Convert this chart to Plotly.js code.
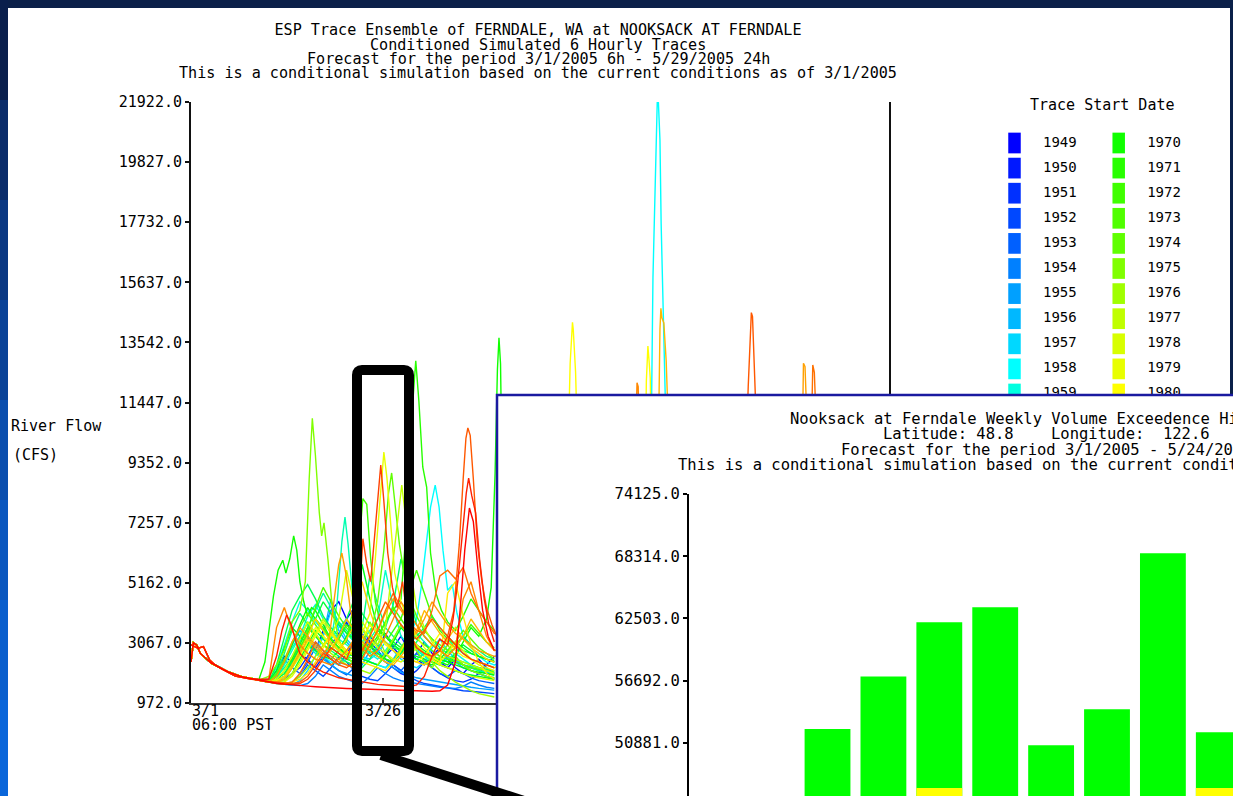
<!DOCTYPE html>
<html><head><meta charset="utf-8">
<script src="https://cdn.plot.ly/plotly-3.0.1.min.js"></script>
<style>html,body{margin:0;padding:0;background:#0b2352;overflow:hidden}#chart{width:1233px;height:796px}</style>
</head><body><div id="chart"></div>
<script>
// ================= DATA =================
// Main chart: ESP trace ensemble, flow in CFS, x = days after 3/1/2005 06:00
const mainTitleLines = [
  "ESP Trace Ensemble of FERNDALE, WA at NOOKSACK AT FERNDALE",
  "Conditioned Simulated 6 Hourly Traces",
  "Forecast for the period 3/1/2005 6h - 5/29/2005 24h",
  "This is a conditional simulation based on the current conditions as of 3/1/2005"
];
const mainYTicks = [972, 3067, 5162, 7257, 9352, 11447, 13542, 15637, 17732, 19827, 21922];
const xTickDays = [0, 24.75];
const xTickLabels = ["3/1", "3/26"];
const xTickSubLabels = ["06:00 PST", ""];

// shared observed start (before traces diverge)
const baseDaysA = [0, 0.3, 0.75, 1.2, 2.6, 3.5, 4.8, 6.5, 8.7];
const baseFlowA = [2400, 3070, 2990, 2700, 2360, 2240, 2060, 1890, 1770];
const baseDaysB = [0, 0.9, 1.6, 2.4, 3.1, 4, 5.7, 7.8];
const baseFlowB = [3000, 2880, 2940, 2470, 2300, 2150, 1910, 1800];

const simDays = [10,11,12,13,14,15,16,17,18,19,20,21,22,23,24,25,26,27,28,29,30,31,32,33,34,35,36,37,38,39];

const flow1949 = [1800,2100,2600,2400,2900,3300,2800,3500,4200,4500,3900,4300,3600,3100,2800,3400,2900,2600,2400,2700,3100,2700,2400,2200,2500,2300,2100,2000,2300,2600];
const flow1950 = [1700,1750,1900,2300,2700,2500,2200,2600,3000,3400,3800,3200,2900,3300,3000,2600,2900,3300,2800,2500,2300,2600,2900,2500,2200,2000,2300,2500,2200,2000];
const flow1951 = [1720,1700,1800,2000,2200,2600,3100,2800,2500,2300,2700,3100,3400,3000,2600,2400,2200,2000,1900,2100,2400,2200,2000,1850,1750,1700,1800,2000,1900,1800];
const flow1952 = [1700,1680,1650,1700,1900,2300,2100,1900,2200,2600,2400,2100,1900,1800,1750,2000,2300,2100,1900,1750,1650,1600,1550,1500,1450,1400,1380,1350,1320,1300];
const flow1953 = [1720,2000,2500,2200,2000,2400,2900,2600,2300,2100,1950,2200,2700,3100,2800,2500,2300,2100,2400,2700,2500,2200,2000,1900,2100,2000,1850,1750,1700,1650];
const flow1954 = [1700,1660,1620,1600,1580,1650,1900,2300,2100,1900,1800,1700,1650,1900,2200,2000,1850,1750,1700,1650,1600,1560,1520,1500,1480,1550,1700,1600,1520,1480];
const flow1955 = [1700,1680,1800,2200,2700,3100,2800,2500,2300,2100,2000,1900,2300,2800,2600,2400,2200,2050,1950,1850,1800,1750,1700,1650,1600,1560,1520,1480,1450,1420];
const flow1956 = [1720,1900,2400,3000,3500,3200,2900,3300,4600,3500,3100,2800,2600,2400,2300,2200,2500,2900,3300,3000,2700,2500,2300,2600,2400,2200,2100,2000,1900,1850];
const flow1957 = [1700,1650,1620,1600,1750,2100,2600,3300,4200,3700,3200,2900,2600,2500,2700,3100,2800,2500,2300,2200,2400,2900,3200,2800,2500,2300,2200,2100,2050,2000];
const days1958 = [10,11,12,13,14,15,16,17,18,19,20,21,22,23,24,25,26,27,28,29,29.6,30.2,30.8,31.4,31.9,32.4,33,33.6,34.2,35,36,37,38,39,45,55,59,59.4,59.7,59.95,60.1,60.3,60.45,60.6,60.8,61.3,63];
const flow1958 = [1700,1750,1900,2200,2600,3000,2800,2600,2400,2300,2500,2800,2600,2400,2300,2200,2400,2700,3200,3900,5000,6400,7800,8570,7800,6300,4900,5100,4100,3300,2900,2600,2400,2300,2800,3500,6000,15800,19000,21922,21900,20600,17700,16000,14200,8000,4000];
const flow1959 = [1720,2200,3000,3800,4500,4200,3800,3500,3200,3600,3900,3400,3000,2700,2500,2800,3200,3700,3300,2900,2600,2400,2300,2500,2700,2500,2300,2200,2100,2000];
const flow1960 = [1700,1800,2300,2800,3300,4000,4400,3900,3500,3200,3000,2800,3100,3500,3900,5600,4300,3300,3000,2800,2600,2500,2800,3200,2900,2700,2500,2400,2300,2200];
const days1961 = [10,11,12,13,14,15,16,17,18,18.8,19.4,19.8,20.2,20.7,21.3,22,23,24,25,26,27,28,29,30,31,32,33,34,35,36,37,38,39];
const flow1961 = [1720,1900,2400,2900,3300,3000,2700,2500,3100,4500,6600,7450,6500,5000,4000,3500,3200,3600,3300,3000,2800,3100,3400,3100,2800,2600,2500,2400,2300,2250,2200,2100,2050];
const flow1962 = [1720,1900,2200,2600,3100,3600,4200,4800,4300,3800,3400,3100,2900,2700,2900,3300,3000,2800,2600,2500,2700,3000,2800,2600,2400,2300,2200,2100,2000,1950];
const flow1963 = [1700,2000,2700,3500,4100,3700,3300,3000,3400,3800,3500,3200,3600,5400,4400,3600,3300,3000,2800,3100,3500,3200,2900,2700,2900,3300,3000,2800,2600,2500];
const flow1964 = [1720,1700,1900,2500,3200,3800,3400,3000,2800,2600,2400,2300,2200,2500,3000,3600,4400,6000,4800,3700,3300,3000,2800,2600,2500,2400,2300,2200,2150,2100];
const flow1965 = [1700,2300,3300,4200,4700,5100,4600,4000,3600,3300,3900,4600,4100,3700,3400,3100,2900,2800,3000,3300,3600,4000,3600,3300,3000,2800,2700,2600,2500,2450];
const flow1966 = [1720,1800,2000,2400,2900,3400,3900,4500,4100,3700,3400,3200,3000,2800,2600,2500,2400,2700,3100,2900,2700,2600,2500,2400,2700,3000,2800,2600,2500,2400];
const flow1967 = [1700,1650,1700,2000,2500,3000,3500,3200,2900,2700,2500,2400,2600,3000,3500,3300,3100,2900,2700,2600,2500,2400,2300,2200,2100,2000,1950,1900,1850,1800];
const flow1968 = [1720,2100,2900,3600,3300,3000,2800,2600,2500,2800,3300,3900,5800,4600,3600,3300,3000,2800,2600,2500,2400,2300,2500,2800,3100,2900,2700,2600,2500,2400];
const flow1969 = [1700,1900,2400,3000,3700,4300,3900,3500,3200,2900,2700,2600,2500,2400,2300,2600,3100,3600,3300,3000,2800,2600,2500,2400,2300,2200,2100,2050,2000,1950];
const days1970 = [9.5,10,10.6,11.2,11.8,12.2,12.7,13.2,13.6,14,14.5,15,15.5,16,17,18,19,20,21,22,23,24,25,26,27,28,29,30,31,32,33,34,35,36,37,38,38.6,39.1,39.4,39.6,39.8,40.1,40.5];
const flow1970 = [2400,3400,4700,5600,5950,5500,6000,6800,6300,5200,4500,4000,4300,4200,3700,3200,2900,2600,2800,3300,3000,2700,2500,2400,2800,3200,2900,2700,2500,2400,2300,2600,3100,3600,3300,3900,5000,9000,12600,13700,12800,7000,4500];
const days1971 = [10,11,12,13,14,15,16,17,18,19,20,21,22,23,24,25,26,27,27.8,28.4,28.9,29.3,29.8,30.3,30.8,31.5,32.2,33,34,35,36,37,38,39];
const flow1971 = [1700,1800,2100,2500,3000,3600,3300,3000,2800,3200,3700,3400,3100,2900,3300,3800,4200,4600,7500,11000,12900,11500,9200,8500,6200,4800,4200,3800,3500,4000,4600,4200,3800,3500];
const days1972 = [10,11,12,13,14,15,16,17,18,19,20,21,21.6,22.1,22.6,23.1,23.7,24.5,25.3,26,27,28,29,30,31,32,33,34,35,36,37,38,39];
const flow1972 = [1720,1750,1900,2300,2800,3400,3900,3600,3200,2900,3100,4500,6500,8100,7900,6000,4500,3600,3200,3500,3900,4800,5600,4800,4000,3500,3200,3000,3300,3700,3400,3100,2900];
const flow1973 = [1720,1700,1800,2200,2800,3500,4300,5000,4500,4000,3600,3300,3000,2800,3200,3800,4300,3900,3500,3200,3000,2800,2600,2500,2400,2300,2200,2150,2100,2050];
const days1974 = [10,11,12,13,14,15,16,17,18,19,20,21,22,23,24,24.8,25.4,25.8,26.3,26.8,27.4,28,29,30,31,32,33,34,35,36,37,38,39];
const flow1974 = [1700,2000,2500,3100,3600,4100,3700,3300,3000,2800,2600,2500,2700,3300,4500,6300,8300,8990,7800,6500,5500,4700,4000,3500,3200,3000,2800,3100,3500,3200,2900,2700,2500];
const days1975 = [10,11,12,13,14,14.7,15.2,15.6,16,16.5,16.8,17.1,17.6,18.2,19,20,21,22,23,24,25,26,27,28,29,30,31,32,33,34,35,36,37,38,39];
const flow1975 = [1900,2300,2800,3800,4200,5200,8800,10900,9600,7600,6800,7250,6000,4200,3200,2600,2300,2900,3800,3300,2700,2400,2900,3300,2800,2400,2200,2600,3000,2600,2300,2100,2000,1900,1850];
const flow1976 = [1700,1680,1650,1700,1900,2200,2600,3000,2700,2500,2300,2200,2100,2000,2300,2700,3200,3700,3300,3000,2700,2400,2100,1900,1700,1550,1400,1300,1230,1180];
const days1977 = [10,11,12,13,14,15,16,17,18,19,20,21,22,23,24,25,25.6,26.4,27.1,27.7,28.3,29,30,31,32,33,34,35,36,37,38,39];
const flow1977 = [1720,1700,1750,2000,2400,2900,3400,3900,3500,3100,2800,3200,3800,3400,3000,3600,5000,7000,8570,7200,5500,4300,3600,3100,2800,2600,2500,2400,2300,2200,2100,2000];
const flow1978 = [1720,1800,2100,2600,3200,3800,3400,3000,3300,3900,5600,4400,3600,3200,2900,2700,2500,2400,2600,2900,2700,2500,2300,2200,2100,2000,1900,1850,1800,1750];
const days1979 = [10,11,12,13,14,15,16,17,18,19,20,21,22,23,23.7,24.3,24.8,25.2,25.7,26.2,27,28,29,30,31,32,33,34,35,36,37,38,39];
const flow1979 = [1700,1680,1700,1900,2300,2800,3300,3800,3400,3000,2700,2900,3400,4100,6000,8200,9720,8800,7200,5500,4500,3800,3300,2900,2600,2400,2700,3100,2800,2500,2300,2200,2100];
const days1980 = [10,11,12,13,14,15,16,17,18,19,20,21,22,23,24,25,26,27,28,29,30,31,32,33,34,35,36,37,38,39,45,48.55,48.75,48.95,49.05,49.15,49.3,49.45,49.6,49.8,53,58.4,58.55,58.75,58.9,59.05,59.25,62];
const flow1980 = [1700,1750,1900,2200,2600,3100,3600,3300,3000,2800,2600,2800,3200,3700,3400,3000,2800,2600,2500,2400,2600,3000,3400,3100,2800,2600,2500,2400,2300,2200,3000,10500,12800,13600,14243,14000,13300,12500,11000,8000,3500,9000,12200,13417,12900,12300,9000,3800];
const flow1981 = [1700,1680,1660,1700,1800,2000,2400,2900,3400,3100,2800,2600,2400,2300,2200,2100,2400,2800,3300,3000,2700,2500,2300,4800,5200,4000,3000,2400,2000,1800];
const flow1982 = [1720,1700,1900,2300,2800,3300,3900,3500,3100,2800,3200,3700,5200,4200,3400,3100,2800,2600,2500,2400,2300,2500,2800,3200,3600,3200,2900,2700,2500,2400];
const days1983 = [10,11,12,13,14,15,16,17,18,19,20,21,22,23,24,25,26,27,28,29,30,31,32,33,34,35,36,37,38,39,45,59.9,60.15,60.3,60.42,60.55,60.8,61.1,61.3,61.5,64];
const flow1983 = [1720,1700,1800,2200,2700,3200,2900,2600,2800,3300,3900,3500,3100,2800,2600,2400,2300,2600,3000,3500,4200,3800,3400,3100,2900,3300,3900,3500,3100,2800,3000,8000,11000,14000,14731,14400,14220,12900,11300,8000,4000];
const days1984 = [10,11,12,13,14,15,16,17,17.6,18.3,19,19.4,19.9,20.5,21.2,22,23,24,25,26,27,28,29,30,31,32,33,34,35,36,37,38,39,50,78.4,78.6,78.75,78.95,79.15,79.4];
const flow1984 = [1700,1900,2400,3100,3600,3300,3000,2700,2900,4300,5800,6200,5500,4200,3600,3300,3000,3500,4100,4600,4200,3800,3400,3900,4500,4100,3700,3400,3200,3000,2800,2700,2600,3000,6000,10000,12814,12700,11200,7000];
const days1985 = [10,11,12,13,14,15,16,17,18,19,20,21,22,23,24,25,26,27,28,29,30,31,32,33,34,35,36,37,38,39,50,57,57.2,57.35,57.5,57.65,57.9];
const flow1985 = [1800,3600,4300,3500,3000,2700,2500,2400,2300,2500,2800,3200,2900,2600,2800,3300,3900,4500,4100,3700,3300,3000,2800,2600,2900,4600,5200,4200,3300,2800,3500,8000,10500,12138,12000,10000,6000];
const days1986 = [10,11,12,13,14,15,16,17,18,19,20,21,22,23,24,25,26,27,28,29,30,31,32,33,34,35,36,37,38,39,50,79.5,79.75,79.95,80.15,80.35,80.6];
const flow1986 = [1700,1650,1620,1700,2000,2500,3100,2800,2600,2400,2300,2200,2500,3000,3500,4200,4800,4300,3800,3500,3400,4200,5400,5600,5300,5700,4800,4200,3800,3400,3000,6000,10000,12755,12500,11000,7000];
const days1987 = [10,11,12,13,14,15,16,17,18,19,20,21,22,23,24,25,26,27,28,29,30,31,32,33,33.8,34.5,35,35.35,35.6,35.9,36.3,36.8,37.4,38,38.7,39.3,45,71.4,71.65,71.95,72.05,72.2,72.4,72.55,72.8];
const flow1987 = [1720,1700,1680,1650,1700,1900,2300,2700,2500,2300,2200,2400,2800,3300,3900,4500,4100,3700,3400,3200,3500,3900,3600,3300,4200,6500,8800,10200,10560,10300,8800,6600,5200,4300,3700,3300,3000,10000,12000,13700,14579,14440,13100,11800,8000];
const days1988 = [10,11,12,13,14,15,16,17,18,19,20,21,21.5,22.1,22.6,23.1,23.6,24.1,24.4,24.8,25.3,25.9,26.5,27.2,27.8,28.5,29,30,31,32,33,34,35,36,37,38,39];
const flow1988 = [1700,1660,1640,1620,1650,1800,2100,2500,2900,2700,2500,3200,4000,6700,5800,5200,6800,8500,9270,8000,6200,5000,4300,5200,4000,3200,2900,2700,2600,2800,3300,3000,2700,2500,2400,2300,2200];
const days1989 = [10,11,11.7,12.3,12.9,13.5,14,15,16,17,18,19,20,21,22,23,24,25,26,27,28,29,30,31,32,33,33.7,34.3,34.9,35.4,35.7,36.1,36.6,37.1,37.7,38.3,39];
const flow1989 = [1800,2600,3500,4040,3700,3100,2700,2400,2200,2050,1950,1850,1800,1750,1700,1650,1620,1600,1580,1560,1540,1600,1900,2600,3200,3000,3900,5200,6800,8300,8815,8200,7600,6000,4600,3700,3100];
const days1990 = [10,11,12,13,14,15,16,17,18,19,20,21,22,23,24,25,26,27,28,29,30,31,32,33,34,34.6,35.2,35.8,36.3,36.9,37.5,38.2,39];
const flow1990 = [1700,1660,1630,1600,1580,1560,1540,1520,1500,1490,1480,1470,1460,1450,1440,1430,1420,1410,1400,1390,1380,1380,1400,1600,2400,4200,6300,7770,7300,5600,4200,3300,2800];

const traceYears = [1949,1950,1951,1952,1953,1954,1955,1956,1957,1958,1959,1960,1961,1962,1963,1964,1965,1966,1967,1968,1969,
                    1970,1971,1972,1973,1974,1975,1976,1977,1978,1979,1980,1981,1982,1983,1984,1985,1986,1987,1988,1989,1990];
const traceDayArrays = [simDays,simDays,simDays,simDays,simDays,simDays,simDays,simDays,simDays,days1958,simDays,simDays,days1961,simDays,simDays,simDays,simDays,simDays,simDays,simDays,simDays,
                        days1970,days1971,days1972,simDays,days1974,days1975,simDays,days1977,simDays,days1979,days1980,simDays,simDays,days1983,days1984,days1985,days1986,days1987,days1988,days1989,days1990];
const traceFlowArrays = [flow1949,flow1950,flow1951,flow1952,flow1953,flow1954,flow1955,flow1956,flow1957,flow1958,flow1959,flow1960,flow1961,flow1962,flow1963,flow1964,flow1965,flow1966,flow1967,flow1968,flow1969,
                         flow1970,flow1971,flow1972,flow1973,flow1974,flow1975,flow1976,flow1977,flow1978,flow1979,flow1980,flow1981,flow1982,flow1983,flow1984,flow1985,flow1986,flow1987,flow1988,flow1989,flow1990];
const baseBYears = [1986,1987,1988,1989];

// Inset: weekly volume exceedence histogram
const insetTitleLines = [
  "Nooksack at Ferndale Weekly Volume Exceedence Histogram",
  "Latitude: 48.8\u00a0\u00a0\u00a0\u00a0Longitude:\u00a0\u00a0122.6",
  "Forecast for the period 3/1/2005 - 5/24/2005",
  "This is a conditional simulation based on the current conditions as of 3/1/2005"
];
const insetYTicks = [50881, 56692, 62503, 68314, 74125];
const weekNums = [3,4,5,6,7,8,9,10];
const greenVolume = [52170,57060,62140,63540,50650,54010,68590,51860];
const yellowVolume = [44500,45200,46650,45600,44100,44800,45300,46650];

// ================= STYLE =================
const traceColors = ['#0000ff','#0018ff','#0030ff','#0048ff','#0060ff','#0080ff','#00a0ff','#00b8ff','#00d8ff','#00ffff','#00ffe0',
  '#00ffc8','#00ffb0','#00ff98','#00ff80','#00ff68','#00ff50','#00ff38','#00ff28','#00ff18','#00ff08',
  '#10ff00','#28ff00','#40ff00','#50ff00','#60ff00','#80ff00','#a0ff00','#c0ff00','#d8ff00','#e8ff00','#ffff00',
  '#ffe800','#ffd000','#ffb800','#ffa000','#ff8800','#ff7000','#ff5800','#ff4000','#ff2000','#ff0000'];
const FONT = 'DejaVu Sans Mono, monospace';
const W = 1233, H = 796;
const px = v => v / W;
const py = v => 1 - v / H;
const txt = (size) => ({family: FONT, size: size, color: '#000'});

// ================= TRACES =================
const traces = traceYears.map((yr, i) => {
  const useB = baseBYears.includes(yr);
  return {
    type: 'scatter', mode: 'lines', name: String(yr),
    x: (useB ? baseDaysB : baseDaysA).concat(traceDayArrays[i]),
    y: (useB ? baseFlowB : baseFlowA).concat(traceFlowArrays[i]),
    line: {color: traceColors[i], width: 1.4},
    xaxis: 'x', yaxis: 'y', hoverinfo: 'skip', showlegend: false
  };
});

// legend ("Trace Start Date") on its own axes: column/row of each year.
// Rows below the inset card are covered in the picture, so only the uncovered rows are drawn.
const rowsPerCol = 21;
const rowsShown = 11;
const legendIdx = traceYears.map((y, i) => i).filter(i => (i % rowsPerCol) < rowsShown);
const legendCol = legendIdx.map(i => Math.floor(i / rowsPerCol));
const legendRow = legendIdx.map(i => i % rowsPerCol);
const legendColors = legendIdx.map(i => traceColors[i]);
const legendText = legendIdx.map(i => String(traceYears[i]));
traces.push({
  type: 'scatter', mode: 'markers', x: legendCol, y: legendRow, xaxis: 'x2', yaxis: 'y2', cliponaxis: false,
  marker: {symbol: 'line-ns', size: 14.8, color: legendColors, line: {color: legendColors, width: 12.5}},
  hoverinfo: 'skip', showlegend: false
});
traces.push({
  type: 'scatter', mode: 'text', x: legendCol.map(c => c + 0.435), y: legendRow, xaxis: 'x2', yaxis: 'y2', cliponaxis: false,
  text: legendText, textposition: 'middle center', textfont: txt(14),
  hoverinfo: 'skip', showlegend: false
});

// inset panel (empty subplot providing the white card)
traces.push({type: 'scatter', mode: 'markers', x: [], y: [], xaxis: 'x3', yaxis: 'y3', hoverinfo: 'skip', showlegend: false});

// inset bars
traces.push({type: 'bar', x: weekNums, y: greenVolume, xaxis: 'x4', yaxis: 'y4',
  marker: {color: '#00ff00', line: {width: 0}}, hoverinfo: 'skip', showlegend: false});
traces.push({type: 'bar', x: weekNums, y: yellowVolume, xaxis: 'x4', yaxis: 'y4',
  marker: {color: '#ffff00', line: {width: 0}}, hoverinfo: 'skip', showlegend: false});

// ================= LAYOUT =================
const hiddenAxis = {showgrid: false, zeroline: false, showline: false, showticklabels: false, ticks: '', fixedrange: true};
const leftStripColors = ['#0a1f4c','#0a2c6a','#0a3882','#0a4398','#0a4eae','#0a57bf','#0a5fcd','#0a66da'];
const shapes = [];
leftStripColors.forEach((c, k) => {
  shapes.push({type: 'rect', xref: 'paper', yref: 'paper', x0: 0, x1: px(8),
    y0: py((k + 1) * 100), y1: py(k * 100), fillcolor: c, line: {width: 0}, layer: 'below'});
});
shapes.push({type: 'rect', xref: 'paper', yref: 'paper', x0: px(8), x1: px(1230), y0: -0.02, y1: py(8),
  fillcolor: '#ffffff', line: {width: 0}, layer: 'below'});
shapes.push({type: 'rect', xref: 'paper', yref: 'paper', x0: px(497), x1: px(1240), y0: -0.02, y1: py(395),
  fillcolor: 'rgba(0,0,0,0)', line: {color: '#1a1aa0', width: 2.5}, layer: 'above'});
// callout frame (rounded) and connector
const cx0 = 357, cx1 = 409, cy0 = 370, cy1 = 751, cr = 5;
const P = (x, y) => px(x) + ',' + py(y);
const calloutPath = 'M' + P(cx0 + cr, cy0) + ' L' + P(cx1 - cr, cy0) + ' Q' + P(cx1, cy0) + ' ' + P(cx1, cy0 + cr) +
  ' L' + P(cx1, cy1 - cr) + ' Q' + P(cx1, cy1) + ' ' + P(cx1 - cr, cy1) +
  ' L' + P(cx0 + cr, cy1) + ' Q' + P(cx0, cy1) + ' ' + P(cx0, cy1 - cr) +
  ' L' + P(cx0, cy0 + cr) + ' Q' + P(cx0, cy0) + ' ' + P(cx0 + cr, cy0) + ' Z';
shapes.push({type: 'path', xref: 'paper', yref: 'paper', path: calloutPath,
  fillcolor: 'rgba(0,0,0,0)', line: {color: '#000000', width: 10}, layer: 'above'});
shapes.push({type: 'line', xref: 'paper', yref: 'paper', x0: px(381), y0: py(755), x1: px(524), y1: py(801),
  line: {color: '#000000', width: 10}, layer: 'above'});

const annotations = [];
const ann = (text, x, y, xanchor, size, xref) => annotations.push({
  text: text, x: x, y: y, xref: xref || 'paper', yref: 'paper', xanchor: xanchor, yanchor: 'middle',
  showarrow: false, font: txt(size), align: 'left', borderpad: 0
});
[45, 59, 73].forEach((yy, k) => ann(mainTitleLines[k + 1], px(538), py(yy), 'center', 15.1));
ann('River Flow', px(10), py(426), 'left', 15);
ann('(CFS)', px(12), py(455), 'left', 15);
xTickDays.forEach((d, k) => {
  ann(xTickLabels[k], d, py(711), k === 0 ? 'left' : 'center', 15, 'x');
  if (xTickSubLabels[k]) ann(xTickSubLabels[k], d, py(725), 'left', 15, 'x');
});
ann('Trace Start Date', px(1102), py(105), 'center', 15);
[419, 434, 450, 465].forEach((yy, k) => ann(insetTitleLines[k], px(1046), py(yy), 'center', 15.5));

const layout = {
  width: W, height: H, autosize: false,
  margin: {l: 0, r: 0, t: 0, b: 0, pad: 0},
  paper_bgcolor: '#0b2049', plot_bgcolor: '#ffffff',
  font: txt(15), showlegend: false, hovermode: false,
  barmode: 'overlay', bargap: 0.18,
  title: {text: mainTitleLines[0], x: px(538), y: py(30), xref: 'paper', yref: 'paper',
          xanchor: 'center', yanchor: 'middle', font: txt(15.1)},
  xaxis: {domain: [px(191), px(889)], range: [0, 89.75], anchor: 'y', showgrid: false, zeroline: false,
          showline: true, linecolor: '#333333', linewidth: 2, ticks: 'inside', ticklen: 5, tickwidth: 2,
          tickcolor: '#333333', tickmode: 'array', tickvals: xTickDays, showticklabels: false, fixedrange: true},
  yaxis: {domain: [py(703), py(102)], range: [972, 21922], anchor: 'x', showgrid: false, zeroline: false,
          showline: true, mirror: true, linecolor: '#111111', linewidth: 2, ticks: 'outside', ticklen: 4,
          tickwidth: 2, tickcolor: '#111111', tickmode: 'array', tickvals: mainYTicks,
          ticktext: mainYTicks.map(v => v.toFixed(1)), tickfont: txt(15), fixedrange: true},
  xaxis2: Object.assign({domain: [px(990), px(1230)], range: [-0.2351, 2.068], anchor: 'y2'}, hiddenAxis),
  yaxis2: Object.assign({domain: [py(406.55), py(130.45)], range: [10.5, -0.5], anchor: 'x2'}, hiddenAxis),
  xaxis3: Object.assign({domain: [px(497), 1], range: [0, 1], anchor: 'y3'}, hiddenAxis),
  yaxis3: Object.assign({domain: [0, py(395)], range: [0, 1], anchor: 'x3'}, hiddenAxis),
  xaxis4: Object.assign({domain: [px(689), 1], range: [0.522, 10.254], anchor: 'y4'}, hiddenAxis),
  yaxis4: {domain: [0, py(494)], range: [45900, 74125], anchor: 'x4', showgrid: false, zeroline: false,
           showline: true, linecolor: '#000000', linewidth: 2, ticks: 'outside', ticklen: 4, tickwidth: 2,
           tickcolor: '#000000', tickmode: 'array', tickvals: insetYTicks,
           ticktext: insetYTicks.map(v => v.toFixed(1)), tickfont: txt(15.5), fixedrange: true},
  shapes: shapes,
  annotations: annotations
};

Plotly.newPlot('chart', traces, layout, {staticPlot: true, displayModeBar: false});
</script>
</body></html>
